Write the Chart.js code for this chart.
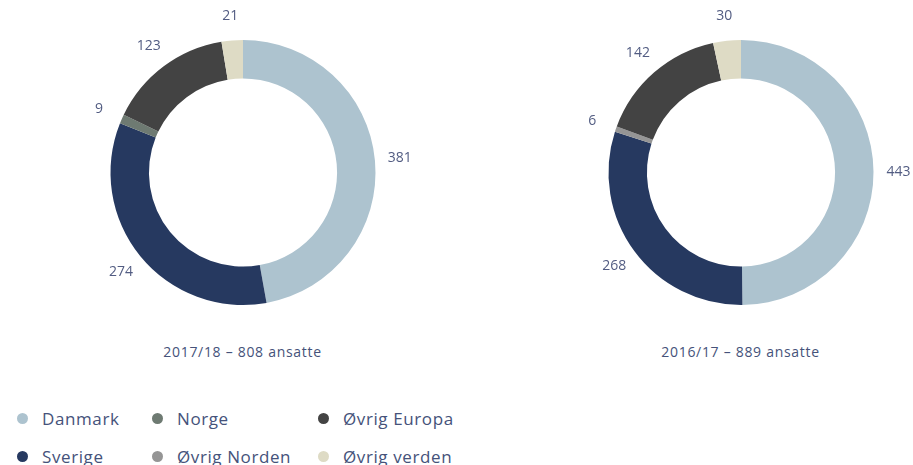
<!DOCTYPE html>
<html>
<head>
<meta charset="utf-8">
<script src="https://cdn.jsdelivr.net/npm/chart.js@4.4.1/dist/chart.umd.min.js"></script>
<style>
  body { margin: 0; background: #fff; font-family: "Open Sans", sans-serif; color: #45527a; }
  #page { position: relative; width: 913px; height: 465px; overflow: hidden; }
  .box { position: absolute; top: 0; width: 400px; height: 330px; }
  .caption { position: absolute; top: 342px; width: 400px; text-align: center; font-size: 14px; letter-spacing: 0.7px; }
  #legend { position: absolute; left: 16px; top: 406px; display: grid;
    grid-template-columns: 135px 166px 160px; row-gap: 13px; grid-auto-flow: column;
    grid-template-rows: 25px 25px; }
  .item { display: flex; align-items: center; font-size: 17px; letter-spacing: 0.6px; white-space: nowrap; }
  .dot { width: 11px; height: 11px; border-radius: 50%; margin-right: 14px; margin-left: 1px; }
</style>
</head>
<body>
<div id="page">
  <div class="box" style="left:42.5px"><canvas id="c2018"></canvas></div>
  <div class="box" style="left:540.5px"><canvas id="c2017"></canvas></div>
  <div class="caption" style="left:42.5px" id="cap1"></div>
  <div class="caption" style="left:540.5px" id="cap2"></div>
  <div id="legend"></div>
</div>
<script>
// Antal ansatte fordelt på land
const countries = ['Danmark', 'Sverige', 'Norge', 'Øvrig Norden', 'Øvrig Europa', 'Øvrig verden'];
const staff2018 = [381, 274, 9, 0, 123, 21];
const staff2017 = [443, 268, 0, 6, 142, 30];
const captions = ['2017/18 – 808 ansatte', '2016/17 – 889 ansatte'];
const colors = ['#adc3cf', '#263960', '#6e7a72', '#959595', '#434343', '#dedbc5'];

// labels outside the ring, at the middle of each slice
const outsideLabels = {
    id: 'outsideLabels',
    afterDatasetsDraw(chart) {
        const ctx = chart.ctx;
        const meta = chart.getDatasetMeta(0);
        ctx.save();
        ctx.font = '14px "Open Sans", sans-serif';
        ctx.fillStyle = '#525c82';
        ctx.textAlign = 'center';
        ctx.textBaseline = 'middle';
        meta.data.forEach((arc, i) => {
            const v = chart.data.datasets[0].data[i];
            if (!v) return;
            const mid = (arc.startAngle + arc.endAngle) / 2;
            const r = arc.outerRadius + 25;
            ctx.fillText(String(v), arc.x + Math.cos(mid) * r, arc.y + Math.sin(mid) * r);
        });
        ctx.restore();
    }
};

function makeChart(id, values) {
    const ctx = document.getElementById(id).getContext('2d');
    return new Chart(ctx, {
        type: 'doughnut',
        data: {
            labels: countries,
            datasets: [{
                data: values,
                backgroundColor: colors,
                borderWidth: 0
            }]
        },
        options: {
            responsive: true,
            maintainAspectRatio: false,
            animation: false,
            cutout: '71%',
            layout: { padding: { top: 40, bottom: 25, left: 67.5, right: 67.5 } },
            plugins: {
                legend: { display: false },
                tooltip: { enabled: false }
            }
        },
        plugins: [outsideLabels]
    });
}

makeChart('c2018', staff2018);
makeChart('c2017', staff2017);
document.getElementById('cap1').textContent = captions[0];
document.getElementById('cap2').textContent = captions[1];

const legend = document.getElementById('legend');
countries.forEach((name, i) => {
    const item = document.createElement('div');
    item.className = 'item';
    item.innerHTML = '<span class="dot" style="background:' + colors[i] + '"></span><span></span>';
    item.lastChild.textContent = name;
    legend.appendChild(item);
});
</script>
</body>
</html>
